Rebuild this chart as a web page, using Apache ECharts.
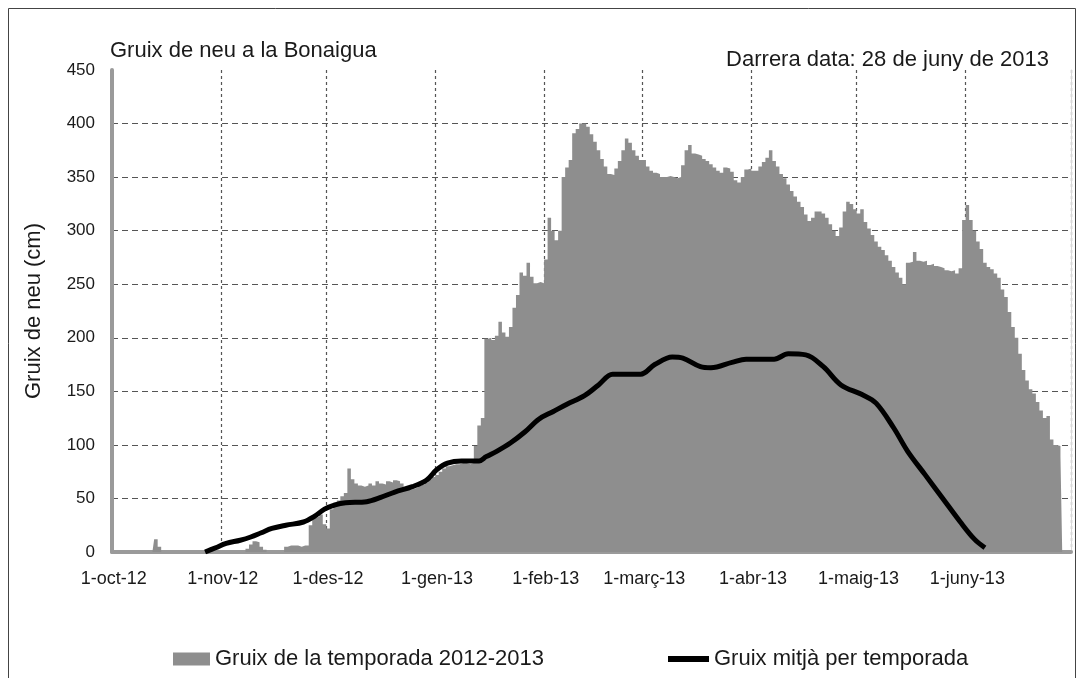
<!DOCTYPE html>
<html>
<head>
<meta charset="utf-8">
<script src="https://cdn.jsdelivr.net/npm/echarts@6/dist/echarts.min.js"></script>
<style>
html,body{margin:0;padding:0;background:#fff;}
#chart{width:1080px;height:678px;}
</style>
</head>
<body>
<div id="chart"></div>
<script>
// ---- Data (snow depth in cm, one value per day, from 1-oct-12) ----
const octDepth = [0,0,0,0,0,0,0,0,0,0,0,0,12,5,0,0,0,0,0,0,0,0,0,0,0,0,0,0,0,0,0];
const novDepth = [0,0,0,0,0,0,0,3,7,10,9,5,2,0,0,0,0,0,5,6,6,6,5,6,6,25,32,33,35,26];
const decDepth = [22,40,46,48,52,55,78,68,64,62,61,62,64,62,66,64,63,66,65,67,66,64,58,58,59,60,62,63,65,68,70];
const janDepth = [72,75,78,80,81,82,82,83,83,82,83,99,118,125,199,200,198,202,215,205,201,210,228,240,261,258,270,257,251,252,251];
const febDepth = [273,312,300,291,300,350,359,366,391,395,400,400,397,390,383,375,367,360,353,352,358,365,375,386,382,375,370,366];
const marDepth = [366,360,356,354,353,350,350,351,350,349,350,361,375,380,372,371,370,367,365,362,359,356,354,359,358,355,347,345,350,357,358];
const aprDepth = [356,356,360,364,368,375,365,360,353,349,343,337,332,327,322,315,309,312,318,318,316,312,306,300,295,303,318,327,325,320];
const mayDepth = [316,320,308,302,296,290,285,282,277,272,266,261,256,250,270,271,280,272,271,272,268,269,267,266,265,263,262,263,260,265,310];
const junDepth = [324,310,300,290,283,270,266,264,260,256,245,238,224,210,200,185,170,160,152,148,140,132,125,127,105,100,99,89];

// mean depth per season: day index (0 = 1-oct) and value
const meanDay   = [26,29,32,36,39,42,45,49,54,57,60,63,66,72,76,80,85,89,92,95,99,104,106,109,113,117,121,125,129,134,138,142,146,150,154,159,162,167,170,176,180,188,192,197,202,207,213,217,222,226,231,236,241,245,248];
const meanDepth = [0,4,8,11,14,18,22,25,28,33,40,44,46,47,51,56,61,67,77,83,85,85,89,94,102,112,124,131,138,146,156,166,166,166,175,182,181,173,172,177,180,180,185,184,173,156,147,139,116,94,72,50,28,12,4];

const tickLabels = ['1-oct-12','1-nov-12','1-des-12','1-gen-13','1-feb-13','1-març-13','1-abr-13','1-maig-13','1-juny-13'];
const yTicks = {min: 0, max: 450, interval: 50};

// ---- Build ----
const depth = [].concat(octDepth, novDepth, decDepth, janDepth, febDepth, marDepth, aprDepth, mayDepth, junDepth);
const days = [];
const monthStarts = [];
let t = Date.UTC(2012, 9, 1);
const end = Date.UTC(2013, 5, 30);
while (t <= end) {
  const d = new Date(t);
  if (d.getUTCDate() === 1) monthStarts.push(days.length);
  days.push(d.toISOString().slice(0, 10));
  t += 86400000;
}
const meanData = meanDay.map((d, i) => [d, meanDepth[i]]);

const FONT = '"Liberation Sans", Arial, sans-serif';
const GREY = '#8e8e8e';
const TXT = '#1a1a1a';
const chart = echarts.init(document.getElementById('chart'), null, {renderer: 'canvas'});
chart.setOption({
  animation: false,
  backgroundColor: '#fff',
  textStyle: {fontFamily: FONT},
  title: [
    {text: 'Gruix de neu a la Bonaigua', left: 105, top: 35,
     textStyle: {fontSize: 22, fontWeight: 'normal', color: TXT, fontFamily: FONT}},
    {text: 'Darrera data: 28 de juny de 2013', right: 26, top: 44,
     textStyle: {fontSize: 22, fontWeight: 'normal', color: TXT, fontFamily: FONT}}
  ],
  grid: {left: 112, right: 9, top: 70, bottom: 126, containLabel: false},
  legend: [
    {left: 168, top: 643, icon: 'rect', itemWidth: 37, itemHeight: 13, itemGap: 5,
     data: [{name: 'Gruix de la temporada 2012-2013', icon: 'rect', itemStyle: {color: GREY, opacity: 1}}],
     textStyle: {fontSize: 22, color: TXT, fontFamily: FONT}},
    {left: 663, top: 643, icon: 'rect', itemWidth: 41, itemHeight: 6, itemGap: 5,
     data: [{name: 'Gruix mitjà per temporada', icon: 'rect', itemStyle: {color: '#000'}}],
     textStyle: {fontSize: 22, color: TXT, fontFamily: FONT}}
  ],
  xAxis: {
    type: 'category',
    data: days,
    boundaryGap: true,
    axisLine: {show: true, lineStyle: {color: '#9a9a9a', width: 4}},
    axisTick: {show: false},
    axisLabel: {
      interval: (i) => monthStarts.indexOf(i) >= 0,
      formatter: (v, i) => tickLabels[monthStarts.indexOf(i)] || '',
      fontSize: 18, color: TXT, margin: 18, fontFamily: FONT
    },
    splitLine: {
      show: true,
      interval: (i) => i > 0 && monthStarts.indexOf(i) >= 0,
      lineStyle: {color: '#555', width: 1.2, type: [3, 3]}
    }
  },
  yAxis: [
    {
      type: 'value',
      min: yTicks.min, max: yTicks.max, interval: yTicks.interval,
      name: 'Gruix de neu (cm)',
      nameLocation: 'middle',
      nameGap: 67,
      nameTextStyle: {fontSize: 22, color: TXT, fontFamily: FONT},
      axisLine: {show: true, lineStyle: {color: '#9a9a9a', width: 4}},
      axisTick: {show: false},
      axisLabel: {fontSize: 17, color: TXT, margin: 17, fontFamily: FONT},
      splitLine: {show: true, showMaxLine: false, showMinLine: false,
        lineStyle: {color: '#555', width: 1.2, type: [6, 4]}}
    },
    {
      type: 'value', position: 'right',
      min: yTicks.min, max: yTicks.max, interval: yTicks.interval,
      axisLine: {show: true, lineStyle: {color: '#d8d8d8', width: 1}},
      axisTick: {show: false}, axisLabel: {show: false}, splitLine: {show: false}
    }
  ],
  series: [
    {
      name: 'Gruix de la temporada 2012-2013',
      type: 'line',
      step: 'middle',
      data: depth,
      symbol: 'none',
      color: GREY,
      itemStyle: {color: GREY},
      lineStyle: {width: 0, opacity: 0},
      areaStyle: {color: GREY, opacity: 1},
      z: 2
    },
    {
      name: 'Gruix mitjà per temporada',
      type: 'line',
      data: meanData,
      smooth: 0.35,
      symbol: 'none',
      color: '#000',
      itemStyle: {color: '#000'},
      lineStyle: {color: '#000', width: 5},
      z: 3
    }
  ],
  graphic: [
    {type: 'rect', silent: true, z: 100,
     shape: {x: 8.5, y: 8.5, width: 1067, height: 700},
     style: {fill: 'none', stroke: '#444', lineWidth: 1}}
  ]
});
</script>
</body>
</html>
